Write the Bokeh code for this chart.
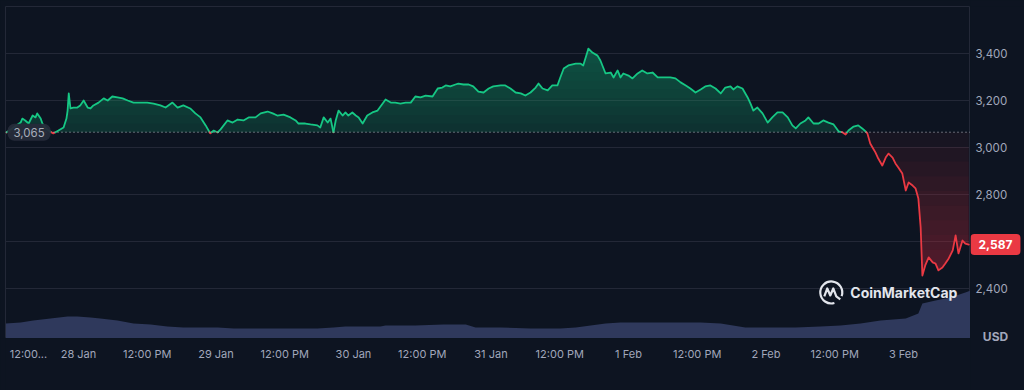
import numpy as np
from bokeh.plotting import figure
from bokeh.layouts import row, column
from bokeh.models import Range1d, FixedTicker, Span, Label, Grid
from bokeh.core.properties import value
from bokeh.embed import file_html
from bokeh.resources import INLINE

# ---- data (x = hours since 28 Jan 00:00) ----
hours = [-12.6, -10.1, -9.8, -9.3, -8.7, -8.0, -7.5, -7.2, -6.6, -6.3,
         -5.8, -5.2, -4.4, -3.5, -2.6, -2.1, -1.9, -1.7, -1.4, -0.9,
         -0.2, 0.3, 0.9, 1.6, 2.1, 2.6, 3.5, 4.4, 5.1, 5.9,
         6.8, 7.7, 8.6, 9.6, 10.8, 12.0, 13.1, 14.3, 15.2, 16.4,
         17.3, 18.3, 19.5, 20.4, 21.3, 22.2, 23.0, 23.6, 24.3, 24.8,
         26.0, 26.9, 27.8, 28.8, 29.7, 30.9, 31.8, 33.0, 33.9, 34.7,
         35.8, 37.0, 37.9, 38.4, 39.6, 40.5, 41.7, 42.2, 42.8, 43.5,
         44.0, 44.5, 44.9, 45.4, 46.1, 46.6, 47.1, 47.8, 48.4, 48.9,
         49.6, 50.4, 51.3, 52.2, 53.1, 53.6, 54.5, 55.3, 56.2, 57.1,
         58.0, 58.8, 59.7, 60.6, 61.8, 62.7, 63.5, 64.1, 64.9, 65.8,
         66.3, 67.2, 68.1, 68.9, 69.8, 70.7, 71.6, 72.4, 73.7, 74.5,
         75.4, 76.3, 77.2, 78.0, 78.9, 79.8, 80.3, 81.0, 81.9, 82.7,
         83.6, 84.1, 84.7, 85.5, 86.8, 87.6, 88.1, 88.8, 89.0, 89.7,
         90.6, 91.1, 92.0, 92.9, 93.4, 94.1, 94.6, 95.1, 96.0, 96.7,
         97.6, 98.4, 99.3, 100.2, 101.1, 101.9, 103.3, 104.2, 105.1, 106.0,
         106.8, 107.7, 108.6, 109.4, 110.3, 111.2, 112.1, 112.9, 113.8, 114.3,
         115.0, 115.9, 116.8, 117.3, 117.8, 118.5, 119.4, 120.3, 121.1, 122.0,
         122.9, 123.8, 124.6, 125.2, 126.0, 126.9, 127.4, 128.3, 129.2, 130.0,
         130.9, 131.8, 132.7, 133.4, 133.9, 134.4, 135.3, 136.1, 136.8, 137.4,
         137.7, 138.2, 138.6, 139.1, 139.6, 140.3, 140.9, 141.4, 142.1, 142.6,
         143.1, 143.8, 144.4, 144.9, 145.6, 146.1, 146.6, 147.0, 147.3, 147.8,
         148.4, 149.1, 149.6, 150.1, 150.8, 151.3, 151.9, 152.6, 153.1, 153.6,
         154.3, 154.8, 155.4]
price = [3064, 3106, 3123, 3115, 3102, 3136, 3128, 3145, 3123, 3102,
         3085, 3072, 3060, 3072, 3085, 3123, 3157, 3230, 3166, 3170,
         3170, 3179, 3200, 3170, 3166, 3179, 3191, 3209, 3200, 3217,
         3213, 3209, 3200, 3191, 3191, 3191, 3187, 3179, 3170, 3191,
         3170, 3179, 3166, 3145, 3128, 3094, 3060, 3072, 3064, 3077,
         3115, 3106, 3119, 3115, 3128, 3128, 3145, 3153, 3145, 3136,
         3140, 3128, 3115, 3102, 3102, 3098, 3094, 3085, 3128, 3106,
         3123, 3064, 3115, 3157, 3136, 3149, 3136, 3149, 3136, 3128,
         3102, 3136, 3149, 3157, 3187, 3204, 3191, 3191, 3187, 3191,
         3191, 3217, 3213, 3221, 3217, 3251, 3255, 3264, 3260, 3268,
         3272, 3268, 3268, 3260, 3238, 3234, 3251, 3260, 3264, 3264,
         3251, 3234, 3230, 3221, 3234, 3255, 3272, 3251, 3243, 3264,
         3264, 3298, 3336, 3349, 3357, 3357, 3349, 3404, 3421, 3404,
         3391, 3370, 3315, 3319, 3298, 3328, 3298, 3315, 3306, 3294,
         3315, 3328, 3315, 3319, 3298, 3298, 3298, 3294, 3277, 3264,
         3251, 3234, 3247, 3260, 3264, 3251, 3230, 3255, 3260, 3247,
         3260, 3251, 3213, 3187, 3157, 3170, 3145, 3106, 3128, 3149,
         3149, 3128, 3094, 3081, 3102, 3115, 3128, 3102, 3102, 3115,
         3106, 3098, 3068, 3064, 3055, 3072, 3089, 3094, 3081, 3068,
         3060, 3017, 3000, 2979, 2953, 2923, 2957, 2974, 2957, 2932,
         2915, 2889, 2817, 2851, 2838, 2826, 2783, 2660, 2455, 2498,
         2532, 2511, 2506, 2477, 2489, 2506, 2528, 2562, 2626, 2549,
         2604, 2591, 2587]

vol_hours = [-12.7, -10.1, -7.9, -4.9, -1.9, -0.2, 2.1, 3.8, 6.8, 9.6,
             12.6, 15.5, 18.3, 21.3, 24.3, 27.1, 30.0, 35.8, 41.7, 44.5,
             46.6, 52.7, 53.6, 58.8, 63.7, 67.6, 69.3, 73.7, 78.9, 84.1,
             86.8, 89.4, 92.0, 94.6, 103.3, 108.6, 112.1, 116.4, 120.8, 125.2,
             129.5, 133.0, 136.5, 140.0, 144.4, 146.6, 147.3, 149.6, 152.2, 154.8,
             155.7]
volume = [15, 16, 18, 20, 22, 22, 21, 20, 18, 15,
          14, 12, 11, 11, 11, 10, 10, 10, 10, 11,
          12, 12, 13, 13, 14, 14, 11, 11, 10, 10,
          11, 13, 15, 16, 16, 16, 15, 11, 11, 11,
          12, 13, 15, 18, 20, 25, 35, 38, 41, 46,
          48]

open_price = 3065
last_price = 2587
x_tick_hours = [0, 12, 24, 36, 48, 60, 72, 84, 96, 108, 120, 132, 144]
x_tick_labels = ["28 Jan", "12:00 PM", "29 Jan", "12:00 PM", "30 Jan", "12:00 PM",
                 "31 Jan", "12:00 PM", "1 Feb", "12:00 PM", "2 Feb", "12:00 PM", "3 Feb"]
first_tick_hour = -12
first_label = "12:00..."
y_ticks = [2400, 2600, 2800, 3000, 3200, 3400]
y_tick_labels = [f"{t:,}" for t in y_ticks]
currency = "USD"

# ---- style ----
BG = "#0d1421"
GRID = "#232837"
TXT = "#a1a7bb"
GREEN = "#16c784"
RED = "#ea3943"
FONT = "Inter"

X0, X1 = -12.74, 155.7
Y0, Y1 = 2187, 3600
FRAME_H = 332
BOTTOM_H = 52
RIGHT_W = 54


def base_fig(**kw):
    f = figure(output_backend="svg", toolbar_location=None,
               x_axis_location=None, y_axis_location=None,
               background_fill_color=BG, border_fill_color=BG,
               min_border_left=0, min_border_right=0,
               min_border_top=0, min_border_bottom=0, **kw)
    f.grid.visible = False
    return f


# ---------------- main chart ----------------
p = base_fig(width=970, height=6 + FRAME_H,
             x_range=Range1d(X0, X1), y_range=Range1d(Y0, Y1))
p.min_border_left = 5
p.min_border_top = 6
p.outline_line_color = GRID
p.add_layout(Grid(dimension=1, ticker=FixedTicker(ticks=y_ticks),
                  grid_line_color=GRID))

# volume
p.extra_y_ranges = {"vol": Range1d(0, FRAME_H)}
p.varea(x=vol_hours, y1=0, y2=volume, y_range_name="vol", fill_color="#2f395c")

# split the price line at the opening price
hx = [hours[0]]
hy = [float(price[0])]
for i in range(1, len(hours)):
    x0, y0, x1, y1 = hours[i - 1], price[i - 1], hours[i], price[i]
    if (y0 - open_price) * (y1 - open_price) < 0:
        t = (open_price - y0) / (y1 - y0)
        hx.append(x0 + t * (x1 - x0))
        hy.append(float(open_price))
    hx.append(x1)
    hy.append(float(y1))
hx = np.array(hx)
hy = np.array(hy)

# gradient-like fills
K = 10
top, bot = 3430, 2440
for k in range(K):
    t = open_price + k * (top - open_price) / K
    p.varea(x=hx, y1=t, y2=np.maximum(hy, t), fill_color=GREEN,
            fill_alpha=0.17 if k == 0 else 0.032)
for k in range(K):
    t = open_price - k * (open_price - bot) / K
    p.varea(x=hx, y1=t, y2=np.minimum(hy, t), fill_color=RED,
            fill_alpha=0.05 if k == 0 else 0.038)

# line runs by colour
runs = []
cur_x, cur_y, cur_c = [hx[0]], [hy[0]], None
for i in range(1, len(hx)):
    mid = (hy[i - 1] + hy[i]) / 2
    c = GREEN if mid >= open_price else RED
    if cur_c is None:
        cur_c = c
    if c != cur_c:
        runs.append((cur_x, cur_y, cur_c))
        cur_x, cur_y, cur_c = [hx[i - 1]], [hy[i - 1]], c
    cur_x.append(hx[i])
    cur_y.append(hy[i])
runs.append((cur_x, cur_y, cur_c))
p.multi_line(xs=[r[0] for r in runs], ys=[r[1] for r in runs],
             line_color=[r[2] for r in runs], line_width=1.8,
             line_join="round", line_cap="round")

# opening price dotted line
p.add_layout(Span(location=open_price, dimension="width", line_color="#b8bcc6",
                  line_dash="1 3", line_width=1))

p.add_layout(Label(x=X0, y=open_price, x_offset=2, text=f"{open_price:,}",
                   text_font=FONT, text_font_size="11.5px", text_color="#a8adba",
                   text_align="left", text_baseline="middle",
                   background_fill_color="#262b3a", background_fill_alpha=0.95,
                   padding=(6, 4), border_radius=7))

# watermark
wm_h, wm_p = 131.4, 2383
px_h, px_p = 1 / 5.729, 200 / 47
WM = "#e2e5ec"
p.arc(x=[wm_h], y=[wm_p], radius=11, radius_units="screen",
      start_angle=-0.35, end_angle=5.0, line_color=WM, line_width=2.2)
wave_dx = [-7, -4, -1, 2, 5, 9]
wave_dy = [4, -4, 3, -4, 4, 7]
p.line(x=[wm_h + d * px_h for d in wave_dx], y=[wm_p - d * px_p for d in wave_dy],
       line_color=WM, line_width=2.2, line_join="round")
p.add_layout(Label(x=wm_h, y=wm_p, x_offset=19, text="CoinMarketCap",
                   text_font=FONT, text_font_size="14px", text_font_style="bold",
                   text_color=WM, text_align="left", text_baseline="middle"))

# ---------------- bottom time axis ----------------
pb = base_fig(width=970, height=BOTTOM_H, x_range=p.x_range,
              y_range=Range1d(0, BOTTOM_H))
pb.min_border_left = 5
pb.outline_line_color = None
pb.text(x=x_tick_hours, y=[BOTTOM_H - 15] * len(x_tick_hours), text=x_tick_labels,
        text_font=value(FONT), text_font_size="11px", text_color=TXT,
        text_align="center", text_baseline="middle")
pb.text(x=[first_tick_hour], y=[BOTTOM_H - 15], text=[first_label],
        text_font=value(FONT), text_font_size="11px", text_color=TXT,
        text_align="left", text_baseline="middle")

# ---------------- right price axis ----------------
pr = base_fig(width=RIGHT_W, height=6 + FRAME_H + BOTTOM_H,
              x_range=Range1d(0, RIGHT_W),
              y_range=Range1d(Y0 - BOTTOM_H * (Y1 - Y0) / FRAME_H, Y1))
pr.min_border_top = 6
pr.outline_line_color = None
pr.text(x=[5] * len(y_ticks), y=y_ticks, text=y_tick_labels,
        text_font=value(FONT), text_font_size="11.5px", text_color=TXT,
        text_align="left", text_baseline="middle")
pr.add_layout(Label(x=0, y=last_price, text=f"{last_price:,}",
                    text_font=FONT, text_font_size="12px", text_font_style="bold",
                    text_color="white", text_align="left", text_baseline="middle",
                    background_fill_color=RED, padding=(8, 6), border_radius=4))
pr.add_layout(Label(x=25, y=Y0, y_offset=2, text=currency,
                    text_font=FONT, text_font_size="12px", text_font_style="bold",
                    text_color=TXT, text_align="center", text_baseline="middle"))

layout = row(column(p, pb, spacing=0), pr, spacing=0)

html = file_html(layout, INLINE)
html = html.replace("</head>", "<style>html,body{margin:0 !important;padding:0;background:#0d1421;}</style></head>", 1)
open("out.html", "w").write(html)
